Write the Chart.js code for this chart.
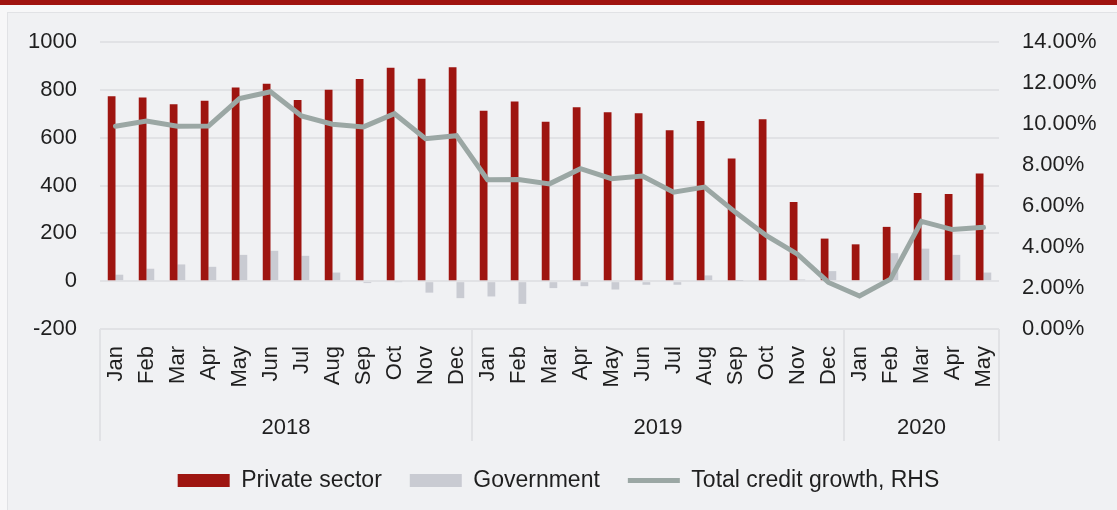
<!DOCTYPE html>
<html>
<head>
<meta charset="utf-8">
<script src="https://cdn.jsdelivr.net/npm/chart.js@4.4.1/dist/chart.umd.min.js"></script>
<style>
  html, body { margin: 0; padding: 0; }
  body { width: 1117px; height: 510px; background: #f7f7f8; position: relative; overflow: hidden; }
  .topbar { position: absolute; left: 0; top: 0; width: 1117px; height: 5px; background: #a01410; }
  .panel { position: absolute; left: 7px; top: 12px; right: -2px; bottom: -2px; background: #f0f1f3; border: 1px solid #e1e2e5; }
  #wrap { position: absolute; left: 0; top: 0; width: 1117px; height: 510px; }
</style>
</head>
<body>
<div class="topbar"></div>
<div class="panel"></div>
<div id="wrap"><canvas id="credit-chart"></canvas></div>
<script>
(function () {
  'use strict';

  var months = ['Jan','Feb','Mar','Apr','May','Jun','Jul','Aug','Sep','Oct','Nov','Dec',
                'Jan','Feb','Mar','Apr','May','Jun','Jul','Aug','Sep','Oct','Nov','Dec',
                'Jan','Feb','Mar','Apr','May'];
  var years     = ['2018', '2019', '2020'];
  var yearSpans = [12, 12, 5];

  var privateSector = [773, 768, 740, 754, 810, 825, 758, 800, 845, 892, 846, 894,
                       713, 751, 667, 727, 706, 702, 631, 670, 513, 677, 331, 178,
                       154, 227, 369, 364, 450];
  var government    = [27, 52, 70, 60, 110, 127, 106, 36, -8, -2, -48, -71,
                       -64, -95, -29, -21, -35, -15, -15, 24, 1, 0, 7, 42,
                       0, 117, 136, 110, 36];
  var creditGrowth  = [9.89, 10.15, 9.89, 9.90, 11.24, 11.57, 10.39, 9.99, 9.86, 10.50, 9.28, 9.43,
                       7.28, 7.29, 7.08, 7.82, 7.33, 7.46, 6.67, 6.92, 5.69, 4.55, 3.65, 2.27,
                       1.61, 2.43, 5.25, 4.85, 4.96];

  var FONT = "'Liberation Sans', Arial, Helvetica, sans-serif";
  var TEXT = '#1f1f1f';
  var GRID = '#e1e2e5';

  // year row + separators under the month labels
  var yearGroups = {
    id: 'yearGroups',
    afterDraw: function (chart) {
      var xs = chart.scales.x;
      var ctx = chart.ctx;
      var bounds = [xs.left];
      var idx = 0;
      yearSpans.forEach(function (n) {
        idx += n;
        if (idx >= months.length) bounds.push(xs.right);
        else bounds.push((xs.getPixelForValue(idx - 1) + xs.getPixelForValue(idx)) / 2);
      });
      ctx.save();
      ctx.strokeStyle = GRID;
      ctx.lineWidth = 2;
      bounds.forEach(function (bx) {
        ctx.beginPath();
        ctx.moveTo(bx, xs.top);
        ctx.lineTo(bx, xs.bottom);
        ctx.stroke();
      });
      ctx.fillStyle = TEXT;
      ctx.font = '22px ' + FONT;
      ctx.textAlign = 'center';
      ctx.textBaseline = 'middle';
      years.forEach(function (yr, i) {
        ctx.fillText(yr, (bounds[i] + bounds[i + 1]) / 2, xs.bottom - 13);
      });
      ctx.restore();
    }
  };

  new Chart(document.getElementById('credit-chart'), {
    type: 'bar',
    data: {
      labels: months,
      datasets: [
        {
          label: 'Private sector',
          data: privateSector,
          backgroundColor: '#9e1510',
          yAxisID: 'y',
          order: 1,
          pointStyle: 'rect',
          categoryPercentage: 0.5,
          barPercentage: 1.0
        },
        {
          label: 'Government',
          data: government,
          backgroundColor: '#c9cbd2',
          yAxisID: 'y',
          order: 1,
          pointStyle: 'rect',
          categoryPercentage: 0.5,
          barPercentage: 1.0
        },
        {
          type: 'line',
          label: 'Total credit growth, RHS',
          data: creditGrowth,
          borderColor: '#9ba7a4',
          backgroundColor: '#9ba7a4',
          borderWidth: 5,
          borderCapStyle: 'round',
          pointRadius: 0,
          pointStyle: 'line',
          tension: 0,
          yAxisID: 'y1',
          order: 0
        }
      ]
    },
    options: {
      responsive: true,
      maintainAspectRatio: false,
      animation: false,
      layout: { padding: { top: 42, left: 0, right: 0, bottom: 8 } },
      plugins: {
        tooltip: { enabled: false },
        legend: {
          position: 'bottom',
          labels: {
            font: { family: FONT, size: 23 },
            color: TEXT,
            usePointStyle: true,
            pointStyleWidth: 52,
            boxHeight: 13,
            padding: 28,
            sort: function (a, b) { return a.datasetIndex - b.datasetIndex; }
          }
        }
      },
      scales: {
        x: {
          grid: { display: false, drawTicks: false },
          border: { display: false },
          ticks: {
            autoSkip: false,
            minRotation: 90,
            maxRotation: 90,
            padding: 17,
            color: TEXT,
            font: { family: FONT, size: 22 }
          },
          afterFit: function (s) { s.height = 112; }
        },
        y: {
          position: 'left',
          min: -200,
          max: 1000,
          ticks: {
            stepSize: 200,
            padding: 23,
            color: TEXT,
            font: { family: FONT, size: 22 },
            callback: function (v) { return String(v); }
          },
          grid: { color: GRID, lineWidth: 2, drawTicks: false },
          border: { display: false },
          afterFit: function (s) { s.width = 100; }
        },
        y1: {
          position: 'right',
          min: 0,
          max: 14,
          ticks: {
            stepSize: 2,
            padding: 23,
            color: TEXT,
            font: { family: FONT, size: 22 },
            callback: function (v) { return v.toFixed(2) + '%'; }
          },
          grid: { display: false, drawTicks: false },
          border: { display: false },
          afterFit: function (s) { s.width = 118; }
        }
      }
    },
    plugins: [yearGroups]
  });
})();
</script>
</body>
</html>
